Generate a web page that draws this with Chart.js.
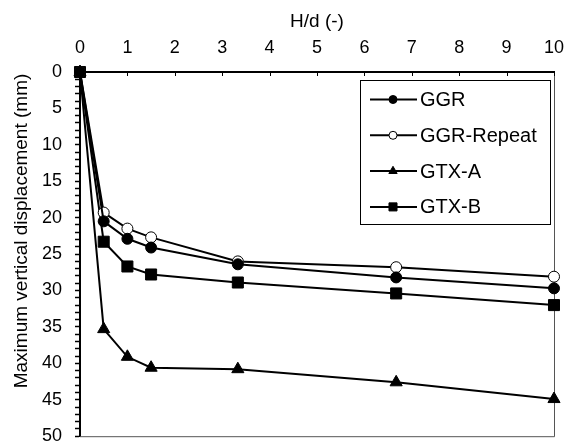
<!DOCTYPE html>
<html>
<head>
<meta charset="utf-8">
<script src="https://cdn.jsdelivr.net/npm/chart.js@4/dist/chart.umd.min.js"></script>
<style>
  body { margin: 0; background: #fff; }
  #wrap { width: 565px; height: 445px; }
</style>
</head>
<body>
<div id="wrap"><canvas id="chart" width="565" height="445"></canvas></div>
<script>
// H/d values shared by all series
const hdValues = [0, 0.5, 1, 1.5, 3.33, 6.67, 10];
const seriesNames = ['GGR', 'GGR-Repeat', 'GTX-A', 'GTX-B'];
// maximum vertical displacement (mm)
const ggr = [0, 20.5, 22.9, 24.1, 26.4, 28.2, 29.7];
const ggrRepeat = [0, 19.3, 21.5, 22.7, 26.0, 26.8, 28.1];
const gtxA = [0, 35.3, 39.1, 40.6, 40.8, 42.6, 44.9];
const gtxB = [0, 23.3, 26.7, 27.8, 28.9, 30.4, 32.0];
const xTicks = [0, 1, 2, 3, 4, 5, 6, 7, 8, 9, 10];
const yTicks = [0, 5, 10, 15, 20, 25, 30, 35, 40, 45, 50];
const yTitle = 'Maximum vertical displacement (mm)';

const FONT = '"Liberation Sans", Arial, sans-serif';

function pts(ys) {
  return hdValues.map((x, i) => ({ x: x, y: ys[i] }));
}

// marker look: plot radius, legend radius
const styles = [
  { pointStyle: 'circle', radius: 5.5, legendRadius: 4, bg: '#000' },
  { pointStyle: 'circle', radius: 5.5, legendRadius: 4, bg: '#fff' },
  { pointStyle: 'triangle', radius: 7, legendRadius: 4.8, bg: '#000' },
  { pointStyle: 'rect', radius: 7.8, legendRadius: 5.7, bg: '#000' }
];
const allData = [ggr, ggrRepeat, gtxA, gtxB];

const datasets = allData.map((d, i) => ({
  label: seriesNames[i],
  data: pts(d),
  borderColor: '#000',
  borderWidth: 2,
  backgroundColor: styles[i].bg,
  pointStyle: styles[i].pointStyle,
  pointRadius: styles[i].radius,
  pointBackgroundColor: styles[i].bg,
  pointBorderColor: '#000',
  pointBorderWidth: 1,
  clip: false,
  tension: 0
}));

// frame lines on right/bottom, inward ticks on the top axis, y title
const framePlugin = {
  id: 'frame',
  beforeDatasetsDraw(chart) {
    const { ctx, chartArea: a, scales } = chart;
    ctx.save();
    ctx.strokeStyle = '#555';
    ctx.lineWidth = 1;
    ctx.beginPath();
    ctx.moveTo(a.left, a.bottom + 0.5);
    ctx.lineTo(a.right + 0.5, a.bottom + 0.5);
    ctx.lineTo(a.right + 0.5, a.top);
    ctx.stroke();
    ctx.strokeStyle = '#000';
    ctx.beginPath();
    xTicks.forEach(v => {
      const px = Math.round(scales.x.getPixelForValue(v)) + 0.5;
      ctx.moveTo(px, a.top);
      ctx.lineTo(px, a.top + 4);
    });
    ctx.stroke();
    // y axis title, sits a bit above the middle like the original
    ctx.translate(22, 231);
    ctx.rotate(-Math.PI / 2);
    ctx.fillStyle = '#000';
    ctx.font = '19px ' + FONT;
    ctx.textAlign = 'center';
    ctx.textBaseline = 'middle';
    ctx.fillText(yTitle, 0, 0);
    ctx.restore();
  }
};

// legend box inside the plot
const legendPlugin = {
  id: 'boxLegend',
  afterDatasetsDraw(chart) {
    const { ctx } = chart;
    const left = 360, top = 80, right = 550, bottom = 224;
    ctx.save();
    ctx.fillStyle = '#fff';
    ctx.fillRect(left, top, right - left, bottom - top);
    ctx.strokeStyle = '#000';
    ctx.lineWidth = 1;
    ctx.strokeRect(left + 0.5, top + 0.5, right - left, bottom - top);
    chart.data.datasets.forEach((ds, i) => {
      const y = 99.5 + i * 35.8;
      ctx.strokeStyle = '#000';
      ctx.lineWidth = 2;
      ctx.beginPath();
      ctx.moveTo(370, y);
      ctx.lineTo(417, y);
      ctx.stroke();
      ctx.lineWidth = 1;
      ctx.fillStyle = ds.pointBackgroundColor;
      Chart.helpers.drawPoint(ctx, {
        pointStyle: ds.pointStyle,
        radius: styles[i].legendRadius,
        rotation: 0,
        borderWidth: 1
      }, 393, y);
      ctx.fillStyle = '#000';
      ctx.font = '20px ' + FONT;
      ctx.textBaseline = 'middle';
      ctx.fillText(ds.label, 420, y + 1);
    });
    ctx.restore();
  }
};

new Chart(document.getElementById('chart'), {
  type: 'line',
  data: { datasets: datasets },
  plugins: [framePlugin, legendPlugin],
  options: {
    responsive: false,
    animation: false,
    layout: { padding: { left: 0, top: 0, right: 11, bottom: 8 } },
    plugins: {
      legend: { display: false },
      tooltip: { enabled: false }
    },
    scales: {
      x: {
        type: 'linear',
        position: 'top',
        min: 0,
        max: 10,
        afterBuildTicks: s => { s.ticks = xTicks.map(v => ({ value: v })); },
        afterFit: s => { s.height = 72; s.paddingLeft = 0; s.paddingRight = 0; },
        ticks: {
          color: '#000',
          padding: 13,
          maxRotation: 0,
          font: { family: FONT, size: 18 }
        },
        grid: { display: false, drawTicks: false },
        border: { display: true, color: '#000', width: 2 },
        title: {
          display: true,
          text: 'H/d (-)',
          color: '#000',
          padding: { top: 10, bottom: 0 },
          font: { family: FONT, size: 19 }
        }
      },
      y: {
        type: 'linear',
        reverse: true,
        min: 0,
        max: 50,
        afterBuildTicks: s => {
          const t = [];
          for (let v = 0; v <= 50; v++) t.push({ value: v });
          s.ticks = t;
        },
        afterFit: s => { s.width = 80; s.paddingTop = 0; s.paddingBottom = 0; },
        ticks: {
          color: '#000',
          padding: 13,
          autoSkip: false,
          font: { family: FONT, size: 18 },
          callback: v => (yTicks.includes(v) ? String(v) : '')
        },
        grid: {
          drawOnChartArea: false,
          drawTicks: true,
          tickLength: 5,
          tickWidth: 1.5,
          color: '#000'
        },
        border: { display: true, color: '#000', width: 2 }
      }
    }
  }
});
</script>
</body>
</html>
